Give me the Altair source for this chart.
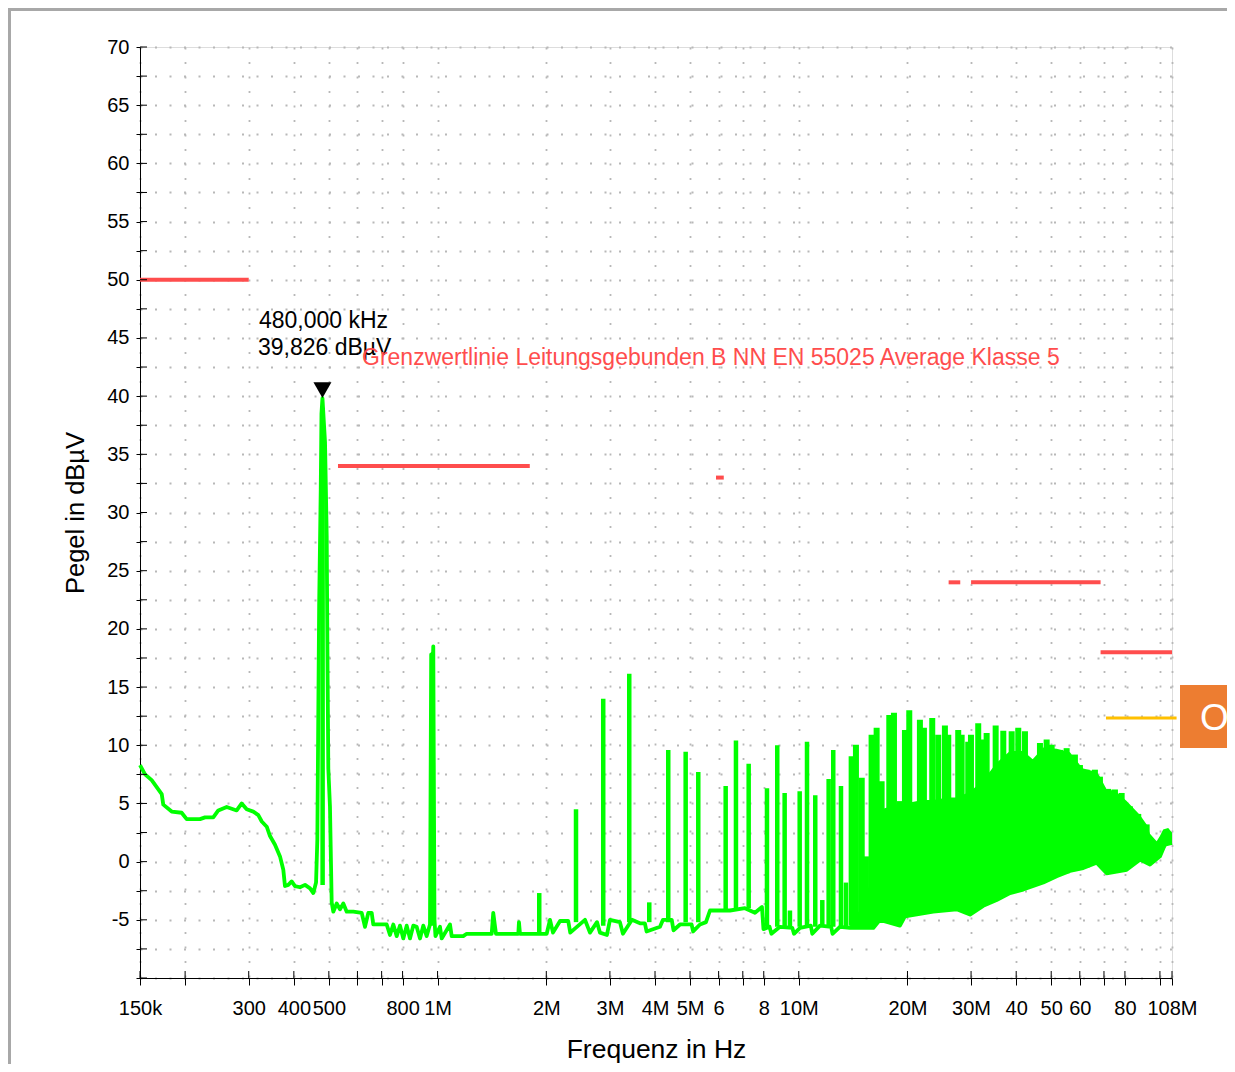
import altair as alt
import pandas as pd

FONT = "Liberation Sans"
GREEN = "#00ff00"
RED = "#ff4d4d"

# ---------------- measured trace (frequency in MHz, level in dBµV) ----------------
trace_mhz = [
    0.150, 0.1549, 0.1616, 0.1723, 0.1740, 0.1836, 0.1956, 0.2020, 0.2199, 0.2271,
    0.2393, 0.2471, 0.2607, 0.2778, 0.2869, 0.2961, 0.3089, 0.3189, 0.3260, 0.3365,
    0.3436, 0.3547, 0.3662, 0.3740, 0.3780, 0.3861, 0.3945, 0.4029, 0.4160, 0.4295,
    0.4435, 0.4529, 0.4608, 0.4646, 0.4700, 0.4748, 0.4770, 0.4800, 0.4880, 0.4932,
    0.4960, 0.4983, 0.5036, 0.5091, 0.5144, 0.5256, 0.5368, 0.5483, 0.5603, 0.5843,
    0.6165, 0.6295, 0.6430, 0.6570, 0.6637, 0.7229, 0.7383, 0.7541, 0.7706, 0.7869,
    0.8037, 0.8213, 0.8387, 0.8565, 0.8752, 0.8940, 0.9129, 0.9329, 0.9527, 0.9600,
    0.9650, 0.9730, 0.9804, 0.9867, 1.0155, 1.0266, 1.0824, 1.0941, 1.178, 1.204,
    1.412, 1.426, 1.451, 1.673, 1.680, 1.691, 1.885, 2.005, 2.048, 2.087,
    2.183, 2.300, 2.330, 2.559, 2.642, 2.763, 2.816, 2.944, 3.001, 3.198,
    3.260, 3.453, 3.634, 3.750, 3.790, 4.129, 4.208, 4.450, 4.500, 4.690,
    5.050, 5.100, 5.327, 5.535, 5.678, 6.450, 7.097, 7.564, 7.909, 7.985,
    8.300, 8.400, 8.870, 9.600, 9.700, 10.08, 10.80, 10.90, 11.45, 12.30,
    12.40, 13.00, 13.87, 16.08, 16.78, 19.06, 19.68, 23.57, 27.36, 29.79,
    32.42, 35.31, 38.44, 41.84, 47.53, 51.77, 56.34, 61.33, 66.79, 71.19,
    80.88, 88.03, 93.84, 100.0, 103.2, 108.0,
]
trace_db = [
    8.3, 7.5, 7.0, 5.8, 4.9, 4.3, 4.2, 3.65, 3.65, 3.8,
    3.8, 4.4, 4.7, 4.4, 5.0, 4.5, 4.3, 4.0, 3.45, 3.0,
    2.2, 1.45, 0.45, -0.7, -2.1, -2.0, -1.7, -2.1, -2.2, -2.0,
    -2.3, -2.7, -1.8, 1.9, 22.0, 32.0, 38.5, 39.826, 36.0, 28.0,
    16.0, 8.0, 4.7, -3.5, -4.3, -3.6, -4.1, -3.6, -4.3, -4.3,
    -4.4, -5.6, -4.4, -4.4, -5.4, -5.4, -6.3, -5.4, -6.4, -5.5,
    -6.6, -5.5, -6.6, -5.5, -5.6, -6.6, -5.5, -6.4, -5.4, 17.8,
    15.0, 18.5, -5.0, -6.4, -5.6, -6.6, -5.4, -6.4, -6.4, -6.2,
    -6.2, -4.4, -6.2, -6.2, -5.2, -6.2, -6.2, -6.2, -5.0, -6.1,
    -5.1, -5.1, -6.1, -5.0, -6.1, -5.2, -6.1, -6.3, -5.0, -5.2,
    -6.2, -5.0, -5.3, -5.3, -6.0, -5.6, -5.0, -5.0, -5.9, -5.4,
    -5.4, -6.0, -5.4, -5.2, -4.2, -4.2, -4.0, -4.4, -3.9, -5.8,
    -5.6, -6.2, -5.6, -5.7, -6.2, -5.7, -5.5, -6.2, -5.5, -5.6,
    -6.2, -5.6, -5.7, -5.7, -5.0, -5.5, -4.7, -4.3, -4.1, -4.55,
    -3.8, -3.3, -2.7, -2.4, -1.8, -1.25, -0.8, -0.55, -0.1, -1.0,
    -0.7, 0.17, -0.25, 0.45, 1.45, 1.6,
]

# narrow spectral lines (MHz, peak, foot)
spike_mhz = [
    0.4805, 0.9690, 1.912, 2.417, 2.875, 3.394, 3.856, 4.352, 4.863, 5.270,
    6.276, 6.701, 7.267, 8.166, 8.719, 9.140, 9.454, 10.06, 10.54, 11.11,
    11.62, 12.10, 12.46, 13.09, 13.51, 14.01, 14.40, 14.94, 15.35, 15.91,
    16.43, 16.96, 17.81, 18.35, 19.06, 19.68, 20.23, 20.97, 21.65, 22.21,
    22.83, 23.42, 24.33, 25.39, 25.94, 26.78, 27.64, 28.25, 29.46, 29.98,
    31.40, 32.42, 33.13, 35.09, 36.84, 38.86, 40.53, 42.30, 44.43, 46.54,
    48.57, 50.14, 52.87, 55.17, 58.16, 60.05, 62.67, 66.07, 68.22, 71.93,
    75.07, 78.35, 82.6, 87.09, 91.88,
]
spike_top = [
    39.0, 17.5, -2.7, 4.5, 14.0, 16.15, -3.5, 9.6, 9.45, 7.7,
    6.5, 10.4, 8.4, 6.3, 10.0, 5.9, -4.2, 6.05, 10.3, 5.7,
    -3.3, 7.1, 9.6, 6.5, -1.8, 9.05, 10.05, 7.2, 0.45, 10.9,
    11.5, 6.9, 12.6, 12.8, 5.2, 11.3, 13.0, 4.5, 12.2, 11.5,
    5.2, 12.35, 10.9, 11.7, 10.9, 4.6, 11.3, 10.9, 10.3, 10.9,
    11.9, 10.5, 11.05, 11.7, 11.25, 11.2, 11.5, 11.2, 8.8, 10.2,
    10.5, 10.05, 9.6, 9.75, 9.2, 8.3, 7.9, 7.9, 7.3, 6.25,
    6.2, 5.9, 4.75, 4.1, 3.2,
]
spike_base = [
    -2.0, -5.5, -6.2, -5.2, -5.5, -5.2, -5.2, -5.2, -5.2, -5.2,
    -4.2, -4.2, -4.0, -5.6, -5.6, -5.6, -5.6, -5.6, -5.6, -5.6,
    -5.6, -5.6, -5.6, -5.6, -5.6, -5.5, -5.5, -5.5, -5.5, -5.5,
    -4.8, -4.8, -4.8, -4.8, -4.8, -4.5, -4.0, -4.0, -4.0, -4.0,
    -4.0, -4.0, -4.0, -4.0, -4.0, -4.0, -4.0, -4.0, -4.0, -4.0,
    -3.0, -3.0, -3.0, -3.0, -3.0, -2.5, -2.0, -2.0, -2.0, -1.5,
    -1.5, -1.0, -1.0, -1.0, -0.5, -0.5, -0.5, 0.0, 0.0, 0.0,
    0.0, 0.0, 0.5, 0.5, 0.5,
]

# densely filled part of the spectrum (MHz, lower edge, solid upper edge)
band_mhz = [
    13.87, 15.0, 15.67, 16.2, 16.96, 19.06, 19.68, 22.0, 23.57, 26.0,
    27.36, 29.79, 32.42, 35.31, 38.44, 41.84, 44.43, 47.53, 51.77, 56.34,
    60.05, 61.33, 66.79, 68.22, 71.19, 75.07, 80.88, 88.03, 91.88, 93.84,
    97.92, 100.0, 102.1, 105.4, 108.0,
]
band_low = [
    -5.7, -5.7, -5.7, -5.5, -5.0, -5.5, -4.7, -4.4, -4.3, -4.2,
    -4.1, -4.55, -3.8, -3.3, -2.7, -2.4, -2.1, -1.8, -1.25, -0.8,
    -0.6, -0.55, -0.1, -0.3, -1.0, -0.9, -0.7, 0.17, 0.0, -0.25,
    0.2, 0.45, 1.0, 1.5, 1.6,
]
band_high = [
    -5.0, -4.0, -2.0, 3.0, 4.5, 5.0, 5.0, 5.3, 5.3, 5.5,
    5.5, 6.0, 7.0, 8.5, 9.5, 9.5, 8.8, 9.8, 9.7, 9.4,
    8.3, 8.0, 7.7, 7.3, 6.2, 6.1, 5.2, 4.0, 3.2, 2.4,
    1.75, 2.2, 2.75, 2.9, 2.5,
]

# limit line (EN 55025 class 5 average) and auxiliary line
limit_start = [0.15, 0.53, 5.9, 26.0, 30.0, 68.5]
limit_end = [0.30, 1.8, 6.2, 28.0, 68.5, 108.0]
limit_db = [50, 34, 33, 24, 24, 18]
aux_start = [70.9]
aux_end = [111.2]
aux_db = [12.35]
limit_title = ["Grenzwertlinie Leitungsgebunden B NN EN 55025 Average Klasse 5"]

# marker
marker_mhz = [0.48]
marker_db = [39.826]
marker_freq_text = ["480,000 kHz"]
marker_level_text = ["39,826 dBµV"]

# axes
x_tick_values = [0.15, 0.2, 0.3, 0.4, 0.5, 0.6, 0.7, 0.8, 1, 2, 3, 4, 5, 6, 7, 8,
                 10, 20, 30, 40, 50, 60, 70, 80, 100, 108]
x_tick_labels = ["150k", "", "300", "400", "500", "", "", "800", "1M", "2M", "3M",
                 "4M", "5M", "6", "", "8", "10M", "20M", "30M", "40", "50", "60",
                 "", "80", "", "108M"]
y_tick_values = [-10, -7.5, -5, -2.5, 0, 2.5, 5, 7.5, 10, 12.5, 15, 17.5, 20, 22.5,
                 25, 27.5, 30, 32.5, 35, 37.5, 40, 42.5, 45, 47.5, 50, 52.5, 55,
                 57.5, 60, 62.5, 65, 67.5, 70]
button_text = ["OK"]

# ---------------- build chart ----------------
W, H = 1032, 931
DENSE_FROM = 13.8

x_label_expr = " : ".join(
    f"datum.value == {v} ? '{l}'" for v, l in zip(x_tick_values, x_tick_labels)
) + " : ''"

x_scale = alt.Scale(type="log", domain=[0.15, 108], nice=False)
y_scale = alt.Scale(domain=[-10, 70], nice=False, zero=False)

x_axis = alt.Axis(
    values=x_tick_values, labelExpr=x_label_expr, title="Frequenz in Hz",
    labelOverlap=False, labelFlush=False, labelBound=False,
    labelFont=FONT, labelFontSize=20, labelColor="#000", labelPadding=13,
    tickSize=7, tickColor="#000", domainColor="#000",
    titleFont=FONT, titleFontSize=26.5, titleFontWeight="normal", titleColor="#000",
    titleY=79, titleBaseline="alphabetic",
    grid=True, gridDash=[2, 12.5], gridColor="#b8b8b8", gridWidth=1.8,
)
y_axis = alt.Axis(
    values=y_tick_values,
    labelExpr="datum.value % 5 == 0 && datum.value > -10 ? datum.value : ''",
    title="Pegel in dBµV", labelFont=FONT, labelFontSize=20, labelColor="#000",
    labelPadding=7, tickSize=4, tickColor="#000", domainColor="#000",
    titleFont=FONT, titleFontSize=25.5, titleFontWeight="normal", titleColor="#000",
    titleX=-57, titleBaseline="alphabetic",
    grid=True, gridDash=[2, 12.5], gridColor="#b8b8b8", gridWidth=1.8,
)


def X(field):
    return alt.X(field, type="quantitative", scale=x_scale, axis=x_axis)


def Y(field):
    return alt.Y(field, type="quantitative", scale=y_scale, axis=y_axis)


trace_df = pd.DataFrame({"f": trace_mhz, "v": trace_db})
spike_df = pd.DataFrame({"f": spike_mhz, "v": spike_top, "v2": spike_base})
band_df = pd.DataFrame({"f": band_mhz, "v": band_low, "v2": band_high})
limit_df = pd.DataFrame({"f": limit_start, "f2": limit_end, "v": limit_db})
aux_df = pd.DataFrame({"f": aux_start, "f2": aux_end, "v": aux_db})
marker_df = pd.DataFrame({"f": marker_mhz, "v": marker_db,
                          "t1": marker_freq_text, "t2": marker_level_text})
xt_df = pd.DataFrame({"f": x_tick_values})
yt_df = pd.DataFrame({"v": y_tick_values})
one = pd.DataFrame({"t": limit_title})
btn = pd.DataFrame({"t": button_text})

frame = alt.Chart(btn).mark_rect(fillOpacity=0, stroke="#a8a8a8", strokeWidth=3).encode(
    x=alt.value(-130.5), x2=alt.value(1300), y=alt.value(-37.5), y2=alt.value(1300))

base_line = alt.Chart(trace_df).mark_line(
    color=GREEN, strokeWidth=3.8, strokeJoin="round").encode(x=X("f"), y=Y("v"))

x_inticks = alt.Chart(xt_df).mark_rule(color="#000", strokeWidth=1).encode(
    x=X("f"), y=alt.value(H - 7), y2=alt.value(H))
y_inticks = alt.Chart(yt_df).mark_rule(color="#000", strokeWidth=1).encode(
    y=Y("v"), x=alt.value(0), x2=alt.value(7))

limits = alt.Chart(limit_df).mark_rule(color=RED, strokeWidth=4).encode(
    x=X("f"), x2="f2", y=Y("v"))
aux = alt.Chart(aux_df).mark_rule(color="#ffc000", strokeWidth=3).encode(
    x=X("f"), x2="f2", y=Y("v"))

band = alt.Chart(band_df).mark_area(color=GREEN, opacity=1).encode(
    x=X("f"), y=Y("v"), y2="v2")
spikes_low = alt.Chart(spike_df).transform_filter(
    alt.datum.f < DENSE_FROM).mark_rule(color=GREEN, strokeWidth=4.5).encode(
    x=X("f"), y=Y("v"), y2="v2")
spikes_dense = alt.Chart(spike_df).transform_filter(
    alt.datum.f >= DENSE_FROM).mark_rule(color=GREEN, strokeWidth=6).encode(
    x=X("f"), y=Y("v"), y2="v2")

marker = alt.Chart(marker_df).mark_point(
    shape="triangle-down", filled=True, color="#000", opacity=1, size=324, yOffset=-8
).encode(x=X("f"), y=Y("v"))
mtext1 = alt.Chart(marker_df).mark_text(
    align="left", baseline="middle", dx=-63.5, dy=-77, font=FONT, fontSize=23, color="#000"
).encode(x=X("f"), y=Y("v"), text="t1:N")
mtext2 = alt.Chart(marker_df).mark_text(
    align="left", baseline="middle", dx=-64.5, dy=-50.5, font=FONT, fontSize=23, color="#000"
).encode(x=X("f"), y=Y("v"), text="t2:N")

limit_label = alt.Chart(one).mark_text(
    align="left", baseline="alphabetic", font=FONT, fontSize=23, color=RED
).encode(x=alt.value(222), y=alt.value(318), text="t:N")

button = alt.Chart(btn).mark_rect(color="#ed7d31").encode(
    x=alt.value(1040), x2=alt.value(1200), y=alt.value(638), y2=alt.value(701))
button_label = alt.Chart(btn).mark_text(
    align="left", baseline="alphabetic", font=FONT, fontSize=37, color="#ffffff"
).encode(x=alt.value(1060), y=alt.value(683), text="t:N")

chart = alt.layer(
    frame, limits, aux, band, base_line, spikes_low, spikes_dense, x_inticks, y_inticks,
    marker, mtext1, mtext2, limit_label, button, button_label,
).properties(
    width=W, height=H,
    autosize=alt.AutoSizeParams(type="none"),
    padding={"left": 132, "top": 39, "right": 55, "bottom": 86},
).configure_view(stroke=None).configure(background="white")

chart.save("out.html", embed_options={"renderer": "svg", "actions": False})
